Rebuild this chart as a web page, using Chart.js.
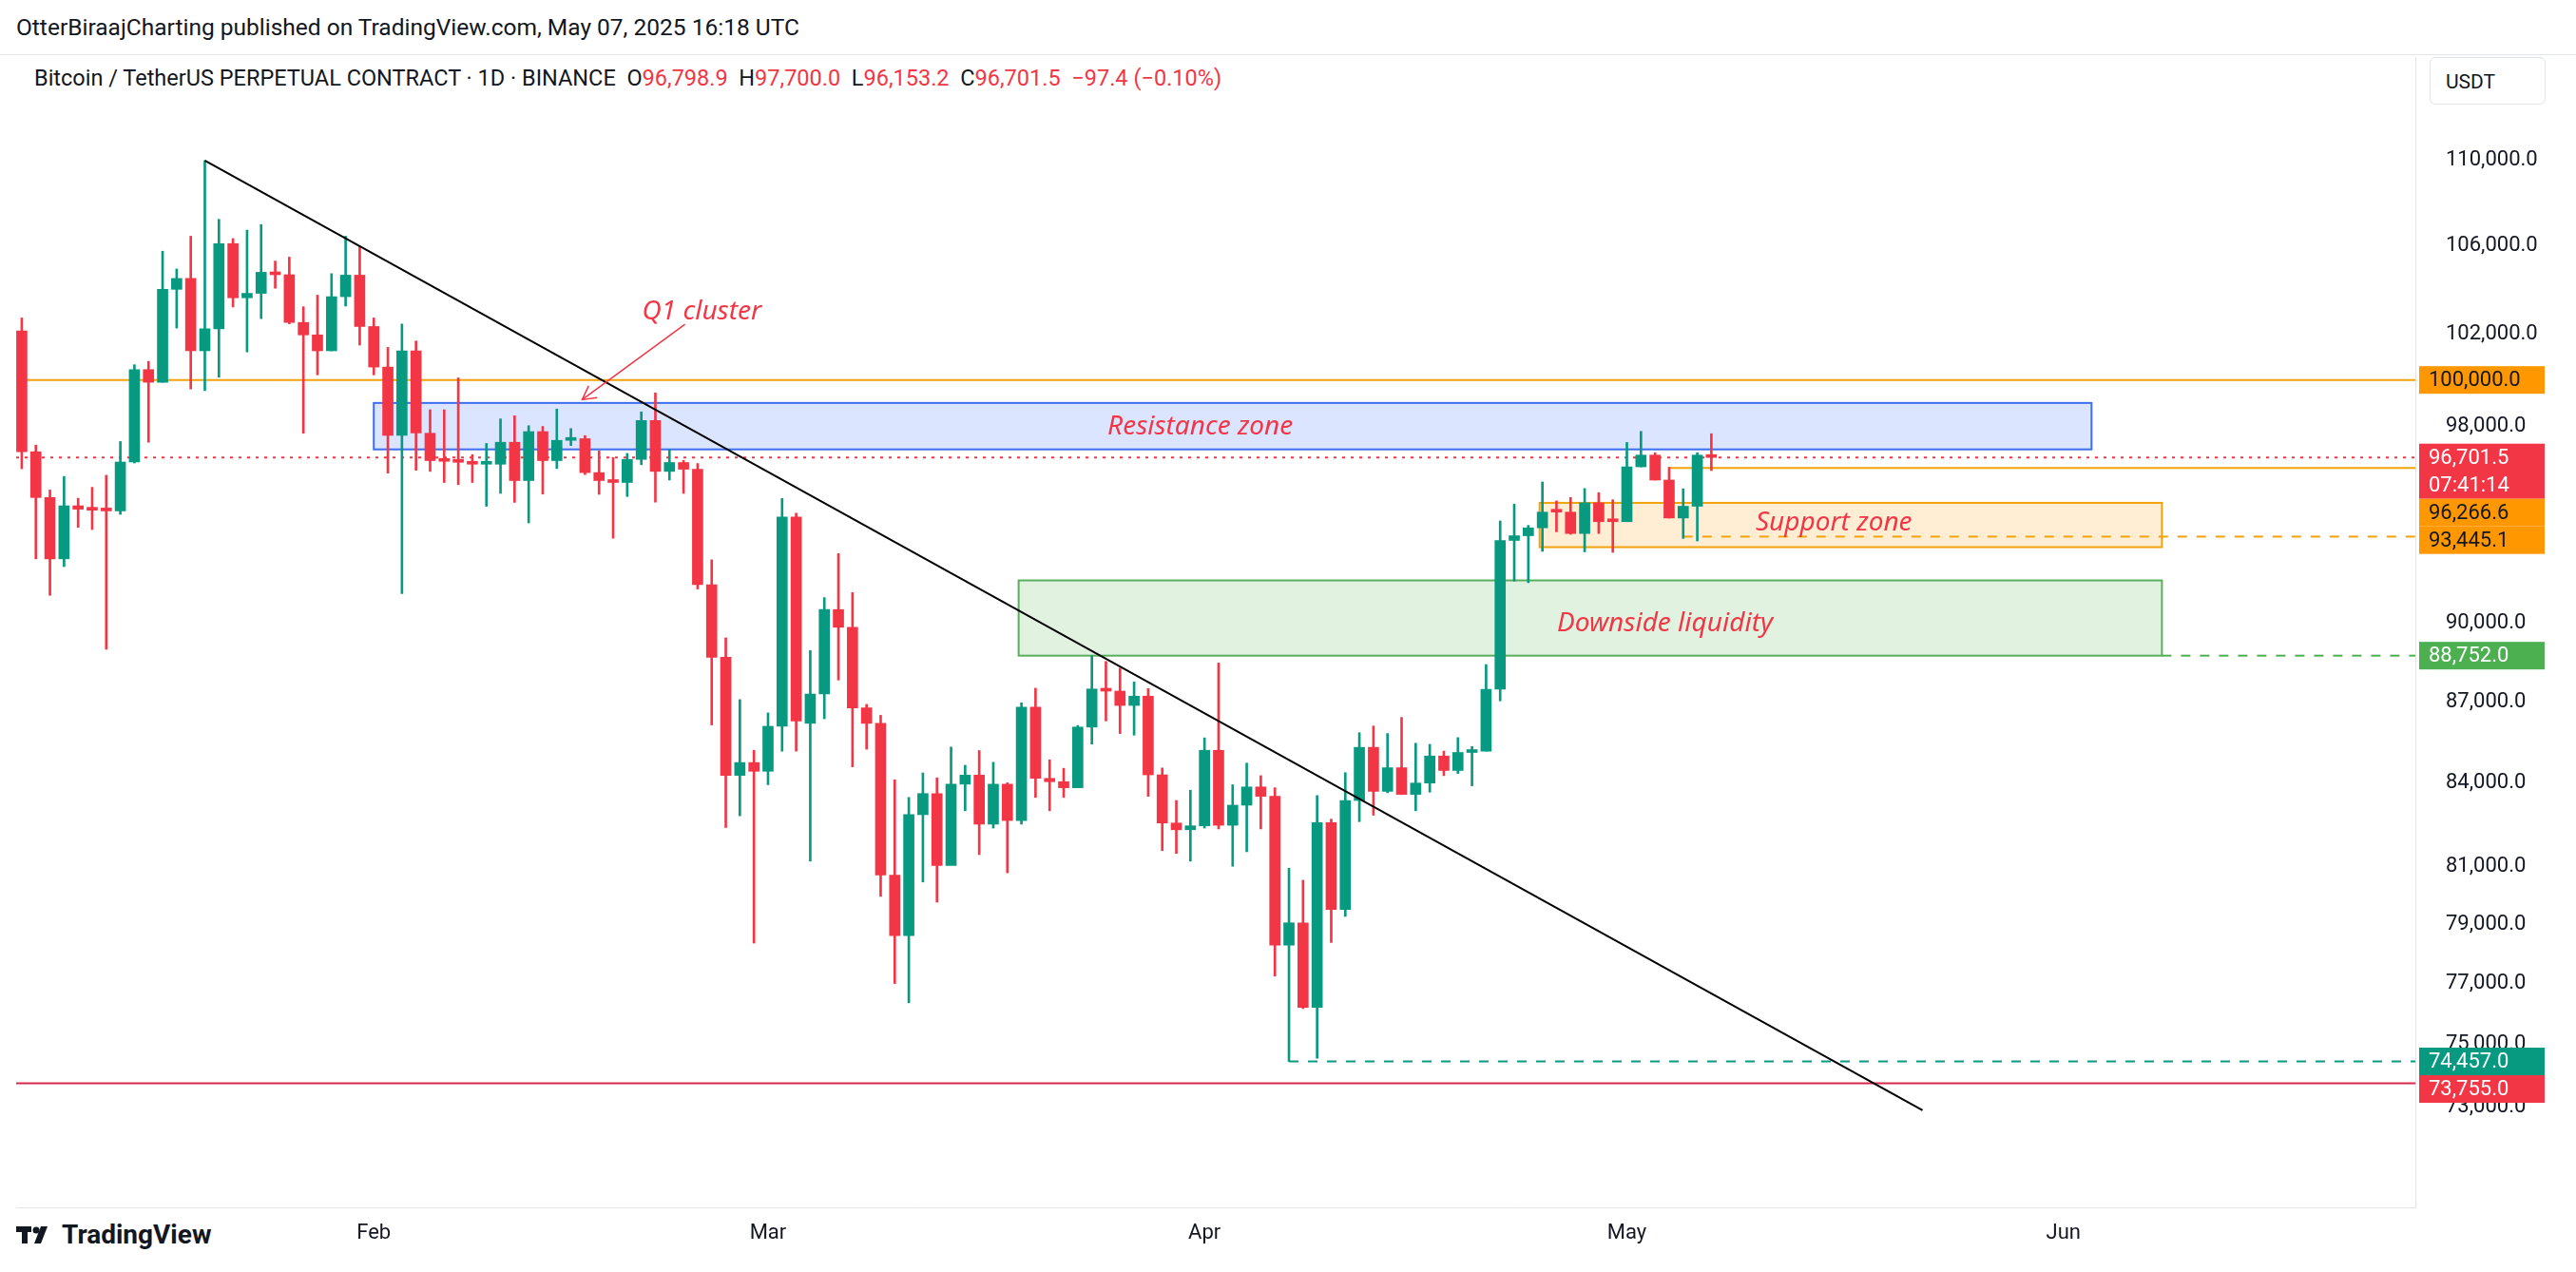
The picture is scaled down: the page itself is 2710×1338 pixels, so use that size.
<!DOCTYPE html>
<html>
<head>
<meta charset="utf-8">
<script src="https://cdn.jsdelivr.net/npm/chart.js@4"></script>
<style>
  body { margin: 0; width: 2710px; height: 1338px; background: #fff; font-family: Roboto, "Noto Sans", sans-serif; color: #131722; overflow: hidden; position: relative; }
  #c { position: absolute; left: 0; top: 0; }
  .abs { position: absolute; white-space: nowrap; }
  #pub { left: 17px; top: 14px; font-size: 24.5px; }
  #sep { left: 0; top: 57px; width: 2710px; height: 1px; background: #e0e3eb; }
  #title { left: 36px; top: 68px; font-size: 23.5px; }
  #title .v { color: #f23645; }
  #usdt { left: 2556px; top: 60px; width: 122px; height: 50px; border: 1px solid #e0e3eb; border-radius: 6px; font-size: 21px; line-height: 50px; padding-left: 16px; box-sizing: border-box; }
  #foot { left: 17px; top: 1282px; font-size: 28px; font-weight: 700; display: flex; align-items: center; gap: 8px; }
</style>
</head>
<body>
<div id="pub" class="abs">OtterBiraajCharting published on TradingView.com, May 07, 2025 16:18 UTC</div>
<div id="sep" class="abs"></div>
<div id="title" class="abs">Bitcoin / TetherUS PERPETUAL CONTRACT · 1D · BINANCE &nbsp;O<span class="v">96,798.9</span> &nbsp;H<span class="v">97,700.0</span> &nbsp;L<span class="v">96,153.2</span> &nbsp;C<span class="v">96,701.5</span> &nbsp;<span class="v">−97.4 (−0.10%)</span></div>
<div id="usdt" class="abs">USDT</div>
<div id="foot" class="abs">
  <svg width="40" height="24" viewBox="0 0 40 24"><rect x="0" y="3" width="16" height="6" fill="#131722"/><rect x="6" y="3" width="6" height="18" fill="#131722"/><circle cx="21" cy="7" r="3.5" fill="#131722"/><polygon points="26,3 33,3 26,21 19,21" fill="#131722"/></svg>
  <span>TradingView</span>
</div>
<canvas id="c" width="2710" height="1338"></canvas>
<script>
// daily candles, index 0 = 2025-01-07
const startDate = '2025-01-07';
const opens = [102150,96940,95040,92550,94700,94630,94560,94490,96510,100450,
  99900,104000,104490,101270,102240,106080,103620,103820,104770,104660,
  102520,101970,101270,103670,104640,102340,100560,97630,101270,97720,
  96620,96560,96500,96420,96420,97340,95740,97790,96570,97420,
  97490,96070,95740,95660,96620,98260,96120,96490,96210,91520,
  88690,84270,84740,84420,86080,94240,86190,87290,90540,89850,
  86770,86190,80710,78620,82850,83610,81050,83950,84280,82510,
  83950,82640,86800,84160,84040,83820,86050,87480,87400,86860,
  87210,84290,82550,82310,82450,85190,82470,83190,83850,83510,
  78300,79060,76220,82560,79520,83360,85300,83690,84550,83580,
  83990,84980,84450,85110,85160,87470,93290,93480,93800,94460,
  94440,93570,94820,94080,94050,96310,96800,95760,94200,94680,96798.9];
const highs = [102720,97220,95350,95910,95010,95460,95960,97370,100660,100810,
  105730,104920,106420,109960,107200,106310,106700,106960,105280,105460,
  103220,103740,104710,106420,105970,102720,101420,102450,101700,98720,
  98720,100090,96820,97290,98330,98460,98040,98010,98750,97920,
  97620,96980,96700,96870,98630,99440,97030,96580,96450,92510,
  89440,87080,85190,86580,95000,94400,88950,91010,92760,91210,
  86900,86490,84110,83470,84360,84180,85310,84640,85180,84750,
  84000,86960,87510,84840,84530,86110,88750,88530,88270,87750,
  87500,84540,83360,83730,85650,88470,83930,84720,84260,83820,
  80950,80530,83540,82690,84370,85840,86090,85810,86410,85450,
  85410,85160,85660,85330,88410,94080,94770,93900,95680,94900,
  95040,95410,95240,94950,97330,97800,96900,96290,95400,96900,97700];
const lows = [96230,92550,91100,92240,93820,93730,89000,94350,96470,97340,
  99900,102270,99610,99540,100120,103210,101220,102690,104050,102460,
  97720,100220,101270,103250,101520,100220,96050,91170,96170,96120,
  95660,95570,95660,94680,95210,94840,94000,95180,96240,97200,
  95990,95170,93380,95080,96400,94850,95760,95210,91350,86130,
  82390,82810,78370,83930,85160,85160,81200,86360,87820,84580,
  85230,79970,77010,76370,80470,79770,81340,82990,81430,82370,
  80790,82510,83470,82990,83470,83820,85420,86280,85810,85750,
  83510,81570,81470,81200,82370,82340,81020,81530,82340,77260,
  74457,76180,74560,78390,79280,82600,82830,83640,83580,82990,
  83660,84260,84340,83890,85160,87030,91660,91600,92850,93640,
  93540,92830,93570,92810,94050,96310,95760,94200,93370,93270,96153.2];
const closes = [96940,95040,92550,94700,94560,94520,94490,96510,100450,99900,
  104000,104490,101270,102240,106080,103620,103820,104770,104660,102520,
  101970,101270,103670,104640,102340,100560,97630,101270,97730,96570,
  96540,96500,96420,96490,97340,95740,97790,96570,97420,97490,
  96070,95740,95660,96620,98260,96120,96490,96210,91520,88690,
  84270,84740,84420,86080,94240,86280,87290,90540,89850,86770,
  86190,80710,78620,82850,83610,81050,83950,84280,82510,83950,
  82640,86800,84160,84040,83820,86050,87480,87400,86860,87210,
  84290,82550,82310,82450,85190,82470,83190,83850,83510,78300,
  79060,76220,82560,79520,83360,85300,83690,84550,83580,83990,
  84980,84450,85110,85160,87470,93290,93480,93800,94440,94440,
  93570,94820,94050,94050,96310,96800,95760,94200,94680,96800,96701.5];

const yTicks = [73000, 75000, 77000, 79000, 81000, 84000, 87000, 90000, 98000, 102000, 106000, 110000];
const monthTicks = [25, 53, 84, 114, 145];
const monthNames = ['Feb', 'Mar', 'Apr', 'May', 'Jun'];

// drawn levels and zones (price, day index)
const level100k = 100000, lastPrice = 96701.5, supportLine = 96266.6, supportLow = 93445.1;
const liqLevel = 88752.0, aprLow = 74457.0, bottomLine = 73755.0;
const resistZone = { x0: 25, x1: 147, top: 99010, bottom: 97040 };
const supportZone = { x0: 107.8, x1: 152, top: 94820, bottom: 93020 };
const liqZone = { x0: 70.8, x1: 152, top: 91690, bottom: 88752 };
const trend = { x0: 13, p0: 109960, x1: 135, p1: 72900 };

const GREEN = '#089981', RED = '#f23645', ORANGE = '#f0a30a';

const wickData = highs.map((h, i) => ({ x: i, y: [lows[i], h] }));
const bodyData = opens.map((o, i) => ({ x: i, y: [Math.min(o, closes[i]), Math.max(o, closes[i])] }));
const candleColors = opens.map((o, i) => closes[i] >= o ? GREEN : RED);

const fmt = v => v.toLocaleString('en-US', { minimumFractionDigits: 1, maximumFractionDigits: 1 });

const overlay = {
  id: 'overlay',
  beforeDatasetsDraw(chart) {
    const { ctx, chartArea: a, scales: { x, y } } = chart;
    ctx.save();
    ctx.beginPath(); ctx.rect(a.left, a.top, a.width, a.height); ctx.clip();
    const zone = (z, fill, stroke) => {
      const l = x.getPixelForValue(z.x0), r = x.getPixelForValue(z.x1);
      const t = y.getPixelForValue(z.top), b = y.getPixelForValue(z.bottom);
      ctx.fillStyle = fill; ctx.fillRect(l, t, r - l, b - t);
      ctx.strokeStyle = stroke; ctx.lineWidth = 2; ctx.strokeRect(l, t, r - l, b - t);
    };
    zone(resistZone, 'rgba(41,98,255,0.17)', '#3d6ef0');
    zone(supportZone, 'rgba(255,152,0,0.17)', ORANGE);
    zone(liqZone, 'rgba(76,175,80,0.17)', '#5aae5e');
    const hline = (p, x0, color, dash, w) => {
      const py = y.getPixelForValue(p);
      ctx.strokeStyle = color; ctx.lineWidth = w; ctx.setLineDash(dash);
      ctx.beginPath(); ctx.moveTo(x0 == null ? a.left : x.getPixelForValue(x0), py); ctx.lineTo(a.right, py); ctx.stroke();
      ctx.setLineDash([]);
    };
    hline(level100k, null, ORANGE, [], 2);
    hline(bottomLine, null, '#d8284d', [], 2);
    hline(lastPrice, null, RED, [3, 6], 2);
    hline(supportLine, 117, ORANGE, [], 2);
    hline(supportLow, 118, ORANGE, [10, 10], 2);
    hline(liqLevel, liqZone.x1, '#4caf50', [10, 10], 2);
    hline(aprLow, 90, GREEN, [10, 10], 2);
    ctx.restore();
  },
  afterDatasetsDraw(chart) {
    const { ctx, chartArea: a, scales: { x, y } } = chart;
    ctx.save();
    ctx.beginPath(); ctx.rect(a.left, a.top, a.width, a.height); ctx.clip();
    ctx.strokeStyle = '#000'; ctx.lineWidth = 2;
    ctx.beginPath();
    ctx.moveTo(x.getPixelForValue(trend.x0), y.getPixelForValue(trend.p0));
    ctx.lineTo(x.getPixelForValue(trend.x1), y.getPixelForValue(trend.p1));
    ctx.stroke();
    // arrow to Q1 cluster
    const ax0 = x.getPixelForValue(47.1), ay0 = y.getPixelForValue(102440);
    const ax1 = x.getPixelForValue(39.8), ay1 = y.getPixelForValue(99150);
    ctx.strokeStyle = RED; ctx.lineWidth = 1.5;
    ctx.beginPath(); ctx.moveTo(ax0, ay0); ctx.lineTo(ax1, ay1); ctx.stroke();
    const ang = Math.atan2(ay1 - ay0, ax1 - ax0);
    ctx.beginPath();
    ctx.moveTo(ax1 - 16 * Math.cos(ang - 0.5), ay1 - 16 * Math.sin(ang - 0.5));
    ctx.lineTo(ax1, ay1);
    ctx.lineTo(ax1 - 16 * Math.cos(ang + 0.5), ay1 - 16 * Math.sin(ang + 0.5));
    ctx.stroke();
    ctx.fillStyle = RED; ctx.font = 'italic 28px "Noto Sans", sans-serif';
    ctx.textAlign = 'center'; ctx.textBaseline = 'middle';
    ctx.fillText('Q1 cluster', x.getPixelForValue(48.3), y.getPixelForValue(103000));
    ctx.fillText('Resistance zone', x.getPixelForValue(83.7), y.getPixelForValue(98000));
    ctx.fillText('Support zone', x.getPixelForValue(128.7), y.getPixelForValue(94000));
    ctx.fillText('Downside liquidity', x.getPixelForValue(116.7), y.getPixelForValue(90000));
    ctx.restore();
  },
  afterDraw(chart) {
    const { ctx, chartArea: a, scales: { y } } = chart;
    const tags = [
      { p: level100k, bg: '#ff9800', fg: '#131722', lines: [fmt(level100k)] },
      { p: lastPrice, bg: RED, fg: '#fff', lines: [fmt(lastPrice), '07:41:14'] },
      { p: supportLine, bg: '#ff9800', fg: '#131722', lines: [fmt(supportLine)] },
      { p: supportLow, bg: '#ff9800', fg: '#131722', lines: [fmt(supportLow)] },
      { p: liqLevel, bg: '#4caf50', fg: '#fff', lines: [fmt(liqLevel)] },
      { p: aprLow, bg: GREEN, fg: '#fff', lines: [fmt(aprLow)] },
      { p: bottomLine, bg: RED, fg: '#fff', lines: [fmt(bottomLine)] }
    ];
    const lh = 29;
    let prevBottom = -1e9;
    ctx.save();
    ctx.font = '22px Roboto, sans-serif'; ctx.textBaseline = 'middle'; ctx.textAlign = 'left';
    tags.forEach(t => {
      const h = lh * t.lines.length;
      let top = y.getPixelForValue(t.p) - lh / 2;
      if (top < prevBottom) top = prevBottom;
      prevBottom = top + h;
      ctx.fillStyle = t.bg;
      ctx.fillRect(a.right + 4, top, 132, h);
      ctx.fillStyle = t.fg;
      t.lines.forEach((s, k) => ctx.fillText(s, a.right + 14, top + lh / 2 + k * lh + 1));
    });
    ctx.restore();
  }
};

new Chart(document.getElementById('c'), {
  type: 'bar',
  data: {
    datasets: [
      { data: wickData, backgroundColor: candleColors, barThickness: 2, grouped: false, borderWidth: 0 },
      { data: bodyData, backgroundColor: candleColors, barThickness: 11, grouped: false, borderWidth: 0, minBarLength: 3 }
    ]
  },
  options: {
    responsive: false,
    devicePixelRatio: 1,
    animation: false,
    layout: { padding: { left: 17, top: 60, right: 14, bottom: 30 } },
    plugins: { legend: { display: false }, tooltip: { enabled: false } },
    scales: {
      x: {
        type: 'linear', min: -0.4, max: 170, offset: false,
        grid: { display: false },
        border: { display: true, color: '#e0e3eb' },
        afterBuildTicks: s => { s.ticks = monthTicks.map(v => ({ value: v })); },
        afterFit: s => { s.height = 38; },
        ticks: { color: '#131722', font: { size: 22, family: 'Roboto' }, padding: 6, maxRotation: 0,
          callback: v => monthNames[monthTicks.indexOf(v)] || '' }
      },
      y: {
        type: 'logarithmic', position: 'right', min: 69900, max: 115000,
        grid: { display: false },
        border: { display: true, color: '#e0e3eb' },
        afterBuildTicks: s => { s.ticks = yTicks.map(v => ({ value: v })); },
        afterFit: s => { s.width = 155; },
        ticks: { color: '#131722', font: { size: 22, family: 'Roboto' }, padding: 24, callback: v => fmt(v) }
      }
    }
  },
  plugins: [overlay]
});
</script>
</body>
</html>
